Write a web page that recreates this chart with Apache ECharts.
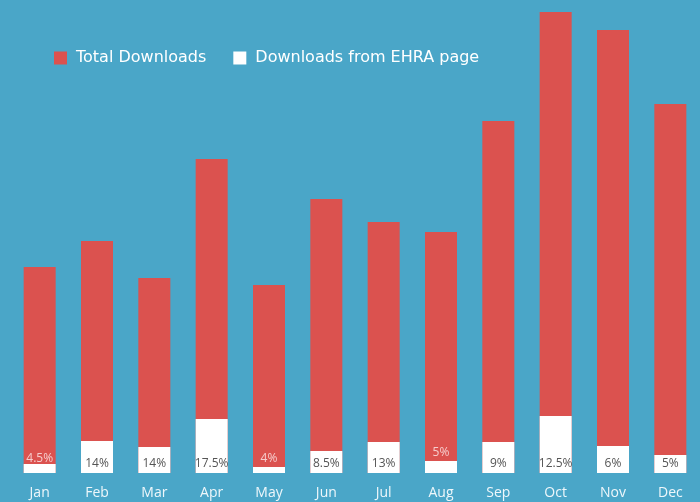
<!DOCTYPE html>
<html>
<head>
  <meta charset="utf-8">
  <title>EHRA downloads</title>
  <script src="https://cdn.jsdelivr.net/npm/echarts@6/dist/echarts.min.js"></script>
  <style>
    html, body { margin: 0; padding: 0; background: #4aa6c8; }
  </style>
</head>
<body>
  <div id="main" style="width: 700px;height:502px;"></div>

  <script type="text/javascript">
    // months
    var months = ['Jan', 'Feb', 'Mar', 'Apr', 'May', 'Jun', 'Jul', 'Aug', 'Sep', 'Oct', 'Nov', 'Dec']
    // total downloads (relative units)
    var totalDownloads = [206, 232, 195, 314, 188, 274, 251, 241, 352, 461, 443, 369]
    // downloads from EHRA page (same units)
    var ehraDownloads = [9, 32, 26, 54, 6, 22, 31, 12, 31, 57, 27, 18]
    // share labels
    var shareLabels = ['4.5%', '14%', '14%', '17.5%', '4%', '8.5%', '13%', '5%', '9%', '12.5%', '6%', '5%']

    var fontFam = '"Open Sans", "DejaVu Sans", sans-serif'

    // small white bars get the label above them on the red part
    var ehraData = ehraDownloads.map(function (v, i) {
      var item = { value: v }
      if (v < 15) {
        item.label = {
          position: 'top',
          distance: i == 0 ? -1 : 2,
          color: '#f6cdcd'
        }
      }
      return item
    })

    var myChart = echarts.init(document.getElementById('main'))

    var option = {
      backgroundColor: '#4aa6c8',
      animation: false,
      legend: {
        data: ['Total Downloads', 'Downloads from EHRA page'],
        left: 49,
        top: 45,
        itemWidth: 13,
        itemHeight: 13,
        itemGap: 27,
        icon: 'rect',
        textStyle: {
          color: '#ffffff',
          fontSize: 16,
          fontFamily: '"DejaVu Sans", sans-serif',
          padding: [0, 0, 0, 4]
        }
      },
      grid: {
        left: 11,
        right: 1,
        top: 0,
        bottom: 29
      },
      xAxis: {
        type: 'category',
        data: months,
        axisLine: { show: false },
        axisTick: { show: false },
        axisLabel: {
          color: '#eef7fb',
          fontSize: 14,
          fontFamily: fontFam,
          margin: 13
        }
      },
      yAxis: {
        type: 'value',
        min: 0,
        max: 473,
        show: false,
        splitLine: { show: false }
      },
      series: [{
        name: 'Total Downloads',
        type: 'bar',
        data: totalDownloads,
        barWidth: 32,
        itemStyle: { color: '#db524f' }
      }, {
        name: 'Downloads from EHRA page',
        type: 'bar',
        data: ehraData,
        barWidth: 32,
        barGap: '-100%',
        itemStyle: { color: '#ffffff' },
        label: {
          show: true,
          position: 'insideBottom',
          distance: 3,
          color: '#555555',
          fontSize: 12,
          fontFamily: fontFam,
          formatter: function (p) {
            return shareLabels[p.dataIndex]
          }
        }
      }]
    }

    myChart.setOption(option)
  </script>
</body>
</html>
